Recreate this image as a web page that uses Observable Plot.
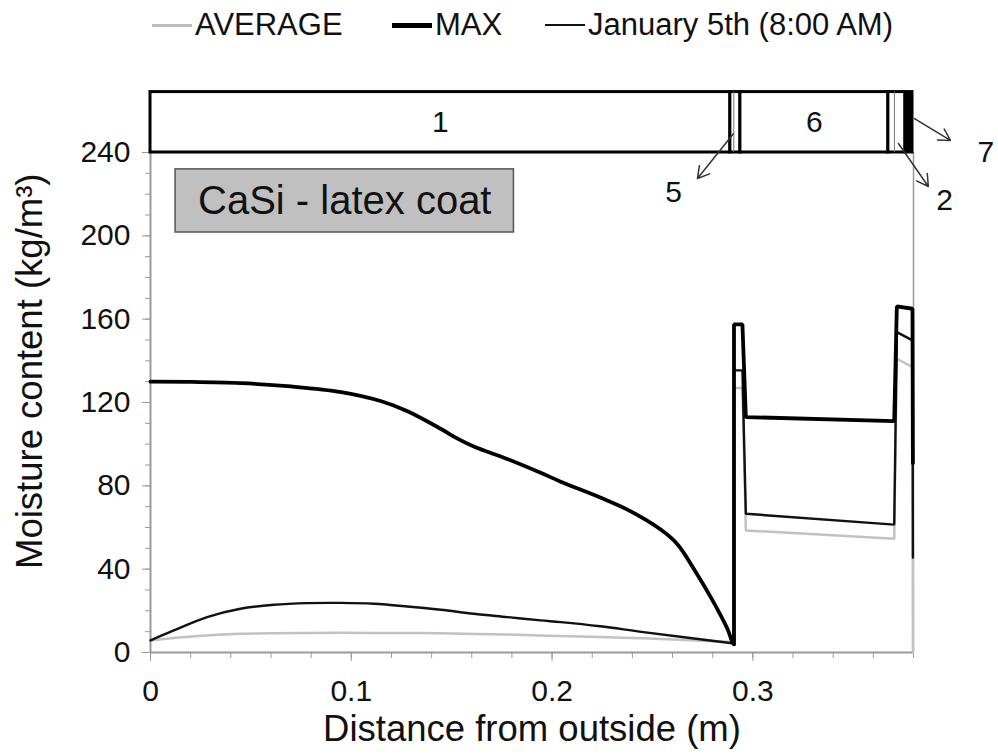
<!DOCTYPE html>
<html><head><meta charset="utf-8">
<script src="https://cdn.jsdelivr.net/npm/d3@7"></script>
<script src="https://cdn.jsdelivr.net/npm/@observablehq/plot@0.6"></script>
<style>
body{margin:0;background:#fff;font-family:"Liberation Sans",Arial,sans-serif;}
#wrap{position:relative;width:998px;height:756px;overflow:hidden;}
#legend{position:absolute;left:0;top:0;width:998px;height:60px;}
.item{position:absolute;top:8px;height:34px;display:flex;align-items:center;font-size:31px;color:#111;white-space:nowrap;}
.sw{display:inline-block;width:40px;margin-right:3px;}
#chart{position:absolute;left:0;top:60px;}
</style></head><body>
<div id="wrap"><div id="legend"></div><div id="chart"></div></div>
<script>
// ---- Data ----
const seriesNames = ["AVERAGE", "MAX", "January 5th (8:00 AM)"];

const maxX = [0, 0.02, 0.045, 0.07, 0.095, 0.115, 0.128, 0.1445, 0.1527, 0.161, 0.178, 0.1943, 0.2043, 0.224, 0.2375, 0.2541, 0.2624, 0.2707, 0.279, 0.2873, 0.2898, 0.2906, 0.2906, 0.2948, 0.2965, 0.3704, 0.3717, 0.3795, 0.3797];
const maxY = [130, 129.9, 129.3, 127.7, 125, 120.6, 115.8, 107.4, 102.8, 98.9, 92.8, 86.3, 82, 74.4, 68.6, 59, 52, 40, 26.6, 11.4, 5, 4, 157.5, 157.5, 113, 111.1, 166.1, 165, 91];

const janX = [0, 0.0116, 0.0282, 0.0448, 0.0614, 0.078, 0.0947, 0.1113, 0.1279, 0.1445, 0.161, 0.1777, 0.1943, 0.2043, 0.224, 0.2455, 0.2906, 0.2906, 0.2948, 0.2965, 0.3704, 0.3717, 0.3795, 0.3797];
const janY = [5.8, 10.6, 17, 21, 22.9, 23.7, 23.8, 23.4, 22.1, 20.5, 18.6, 17, 15.4, 14.6, 12.6, 9.8, 4.3, 135.4, 135.4, 66.6, 61.4, 153.8, 149.8, 45.6];

const avgX = [0, 0.0116, 0.0282, 0.0448, 0.078, 0.1113, 0.1445, 0.1777, 0.224, 0.2455, 0.2906, 0.2906, 0.2948, 0.2965, 0.3704, 0.3717, 0.3795, 0.3797];
const avgY = [5.8, 7, 8.2, 9, 9.4, 9.4, 9.2, 8.6, 7.4, 6.8, 5, 127, 127, 58.6, 54.6, 141, 137, 0];

// layers of the wall (top band)
const layerIds   = ["1", "5", "6", "2", "7"];
const layerStart = [0, 0.2888, 0.2938, 0.3675, 0.376];
const layerEnd   = [0.2888, 0.2938, 0.3675, 0.376, 0.3795];
const layerLabelShown = ["1", "", "6", "", ""];
const layerInner = [0.2905, 0.3705];

// callout arrows for thin layers
const calloutLabels = ["5", "2", "7"];
const calloutFromX = [0.2903, 0.3725, 0.3805];
const calloutFromY = [249, 244.3, 256.3];
const calloutToX   = [0.2724, 0.3874, 0.3984];
const calloutToY   = [227.5, 223.7, 245.8];
const calloutTextX = [0.2605, 0.3955, 0.4160];
const calloutTextY = [221, 217, 240];

const panelTitle = "CaSi - latex coat";
const panelBox = {x1: 0.0125, x2: 0.181, y1: 201.6, y2: 231.9};

const xMajorTicks = [0, 0.1, 0.2, 0.3];
const xMinorTicks = d3.range(0, 0.381, 0.02).map(v => +v.toFixed(2));
const yMajorTicks = [0, 40, 80, 120, 160, 200, 240];
const yMinorTicks = d3.range(0, 241, 10);

// ---- Build tables ----
const toPts = (xs, ys) => xs.map((x, i) => ({x, y: ys[i]}));
// split each profile where x repeats (start of the jump into layer 5):
// the smooth part (layer 1) and the stepped part (layers 5, 6, 2, 7)
function split(xs, ys) {
  const pts = toPts(xs, ys);
  const k = pts.findIndex((p, i) => i > 0 && p.x === pts[i - 1].x);
  return {smooth: pts.slice(0, k), steps: pts.slice(k - 1)};
}
const avgP = split(avgX, avgY);
const janP = split(janX, janY);
const maxP = split(maxX, maxY);
const layers = layerIds.map((id, i) => ({id, x1: layerStart[i], x2: layerEnd[i], label: layerLabelShown[i]}));
const callouts = calloutLabels.map((t, i) => ({t, x1: calloutFromX[i], y1: calloutFromY[i], x2: calloutToX[i], y2: calloutToY[i], tx: calloutTextX[i], ty: calloutTextY[i]}));

const FONT = '"Liberation Sans", Arial, sans-serif';
const AX = "#9a9a9a";

// ---- Legend ----
const legendSpec = [
  {name: seriesNames[0], left: 152, color: "#bdbdbd", h: 3},
  {name: seriesNames[1], left: 392, color: "#000", h: 5},
  {name: seriesNames[2], left: 545, color: "#111", h: 2.5}
];
const leg = document.getElementById("legend");
legendSpec.forEach(s => {
  const d = document.createElement("div");
  d.className = "item";
  d.style.left = s.left + "px";
  const sw = document.createElement("span");
  sw.className = "sw";
  sw.style.height = s.h + "px";
  sw.style.background = s.color;
  d.appendChild(sw);
  d.appendChild(document.createTextNode(s.name));
  leg.appendChild(d);
});

const lineStyles = [
  {p: avgP, stroke: "#c2c2c2", w: 2.5},
  {p: janP, stroke: "#111", w: 2.4},
  {p: maxP, stroke: "#000", w: 3.8}
];

// ---- Chart ----
const chart = Plot.plot({
  width: 998,
  height: 696,
  marginLeft: 150,
  marginRight: 85,
  marginTop: 29.5,
  marginBottom: 104,
  x: {domain: [0, 0.38], label: null},
  y: {domain: [0, 270], label: null},
  style: {fontFamily: FONT, background: "white", overflow: "visible", color: "#111"},
  marks: [
    // axes lines & frame
    Plot.ruleX([0], {y1: 0, y2: 240, stroke: AX, strokeWidth: 2}),
    Plot.ruleY([0], {x1: 0, x2: 0.38, stroke: AX, strokeWidth: 2}),
    Plot.ruleX([0.38], {y1: 0, y2: 240, stroke: AX, strokeWidth: 1.5}),
    Plot.axisX(xMinorTicks, {tickSize: 6, tickFormat: () => "", stroke: AX, label: null}),
    Plot.axisX(xMajorTicks, {tickSize: 9, tickPadding: 18, fontSize: 30, stroke: AX, fill: "#111",
      tickFormat: d => d === 0 ? "0" : d3.format(".1f")(d), label: null}),
    Plot.axisY(yMinorTicks, {tickSize: 5, tickFormat: () => "", stroke: AX, label: null}),
    Plot.axisY(yMajorTicks, {tickSize: 8, tickPadding: 12, fontSize: 30, stroke: AX, fill: "#111", label: null}),
    // axis titles
    Plot.text(["Distance from outside (m)"], {frameAnchor: "bottom", dy: 88, fontSize: 36.5, fill: "#111"}),
    Plot.text(["Moisture content (kg/m³)"], {frameAnchor: "left", dx: -120, rotate: -90, textAnchor: "middle", fontSize: 36.5, fill: "#111"}),
    // series
    ...lineStyles.flatMap(s => [
      Plot.line(s.p.smooth, {x: "x", y: "y", stroke: s.stroke, strokeWidth: s.w, curve: "catmull-rom"}),
      Plot.line(s.p.steps, {x: "x", y: "y", stroke: s.stroke, strokeWidth: s.w, strokeLinejoin: "miter"})
    ]),
    // layer band
    Plot.rect(layers, {x1: "x1", x2: "x2", y1: 240, y2: 269, fill: d => d.id === "7" ? "#000" : "#fff", stroke: "#000", strokeWidth: 3}),
    Plot.ruleX(layerInner, {y1: 240, y2: 269, stroke: "#777", strokeWidth: 1}),
    Plot.text(layers.filter(d => d.label), {x: d => (d.x1 + d.x2) / 2, y: 254.5, text: "label", fontSize: 30, fill: "#111"}),
    // callouts
    Plot.arrow(callouts, {x1: "x1", y1: "y1", x2: "x2", y2: "y2", stroke: "#333", strokeWidth: 1.5, headLength: 13}),
    Plot.text(callouts, {x: "tx", y: "ty", text: "t", fontSize: 30, fill: "#111"}),
    // panel title box
    Plot.rect([panelBox], {x1: "x1", x2: "x2", y1: "y1", y2: "y2", fill: "#c0c0c0", stroke: "#555", strokeWidth: 1.5}),
    Plot.text([panelTitle], {x: (panelBox.x1 + panelBox.x2) / 2, y: (panelBox.y1 + panelBox.y2) / 2, fontSize: 40, fill: "#111"})
  ]
});
document.getElementById("chart").appendChild(chart);
</script>
</body></html>
